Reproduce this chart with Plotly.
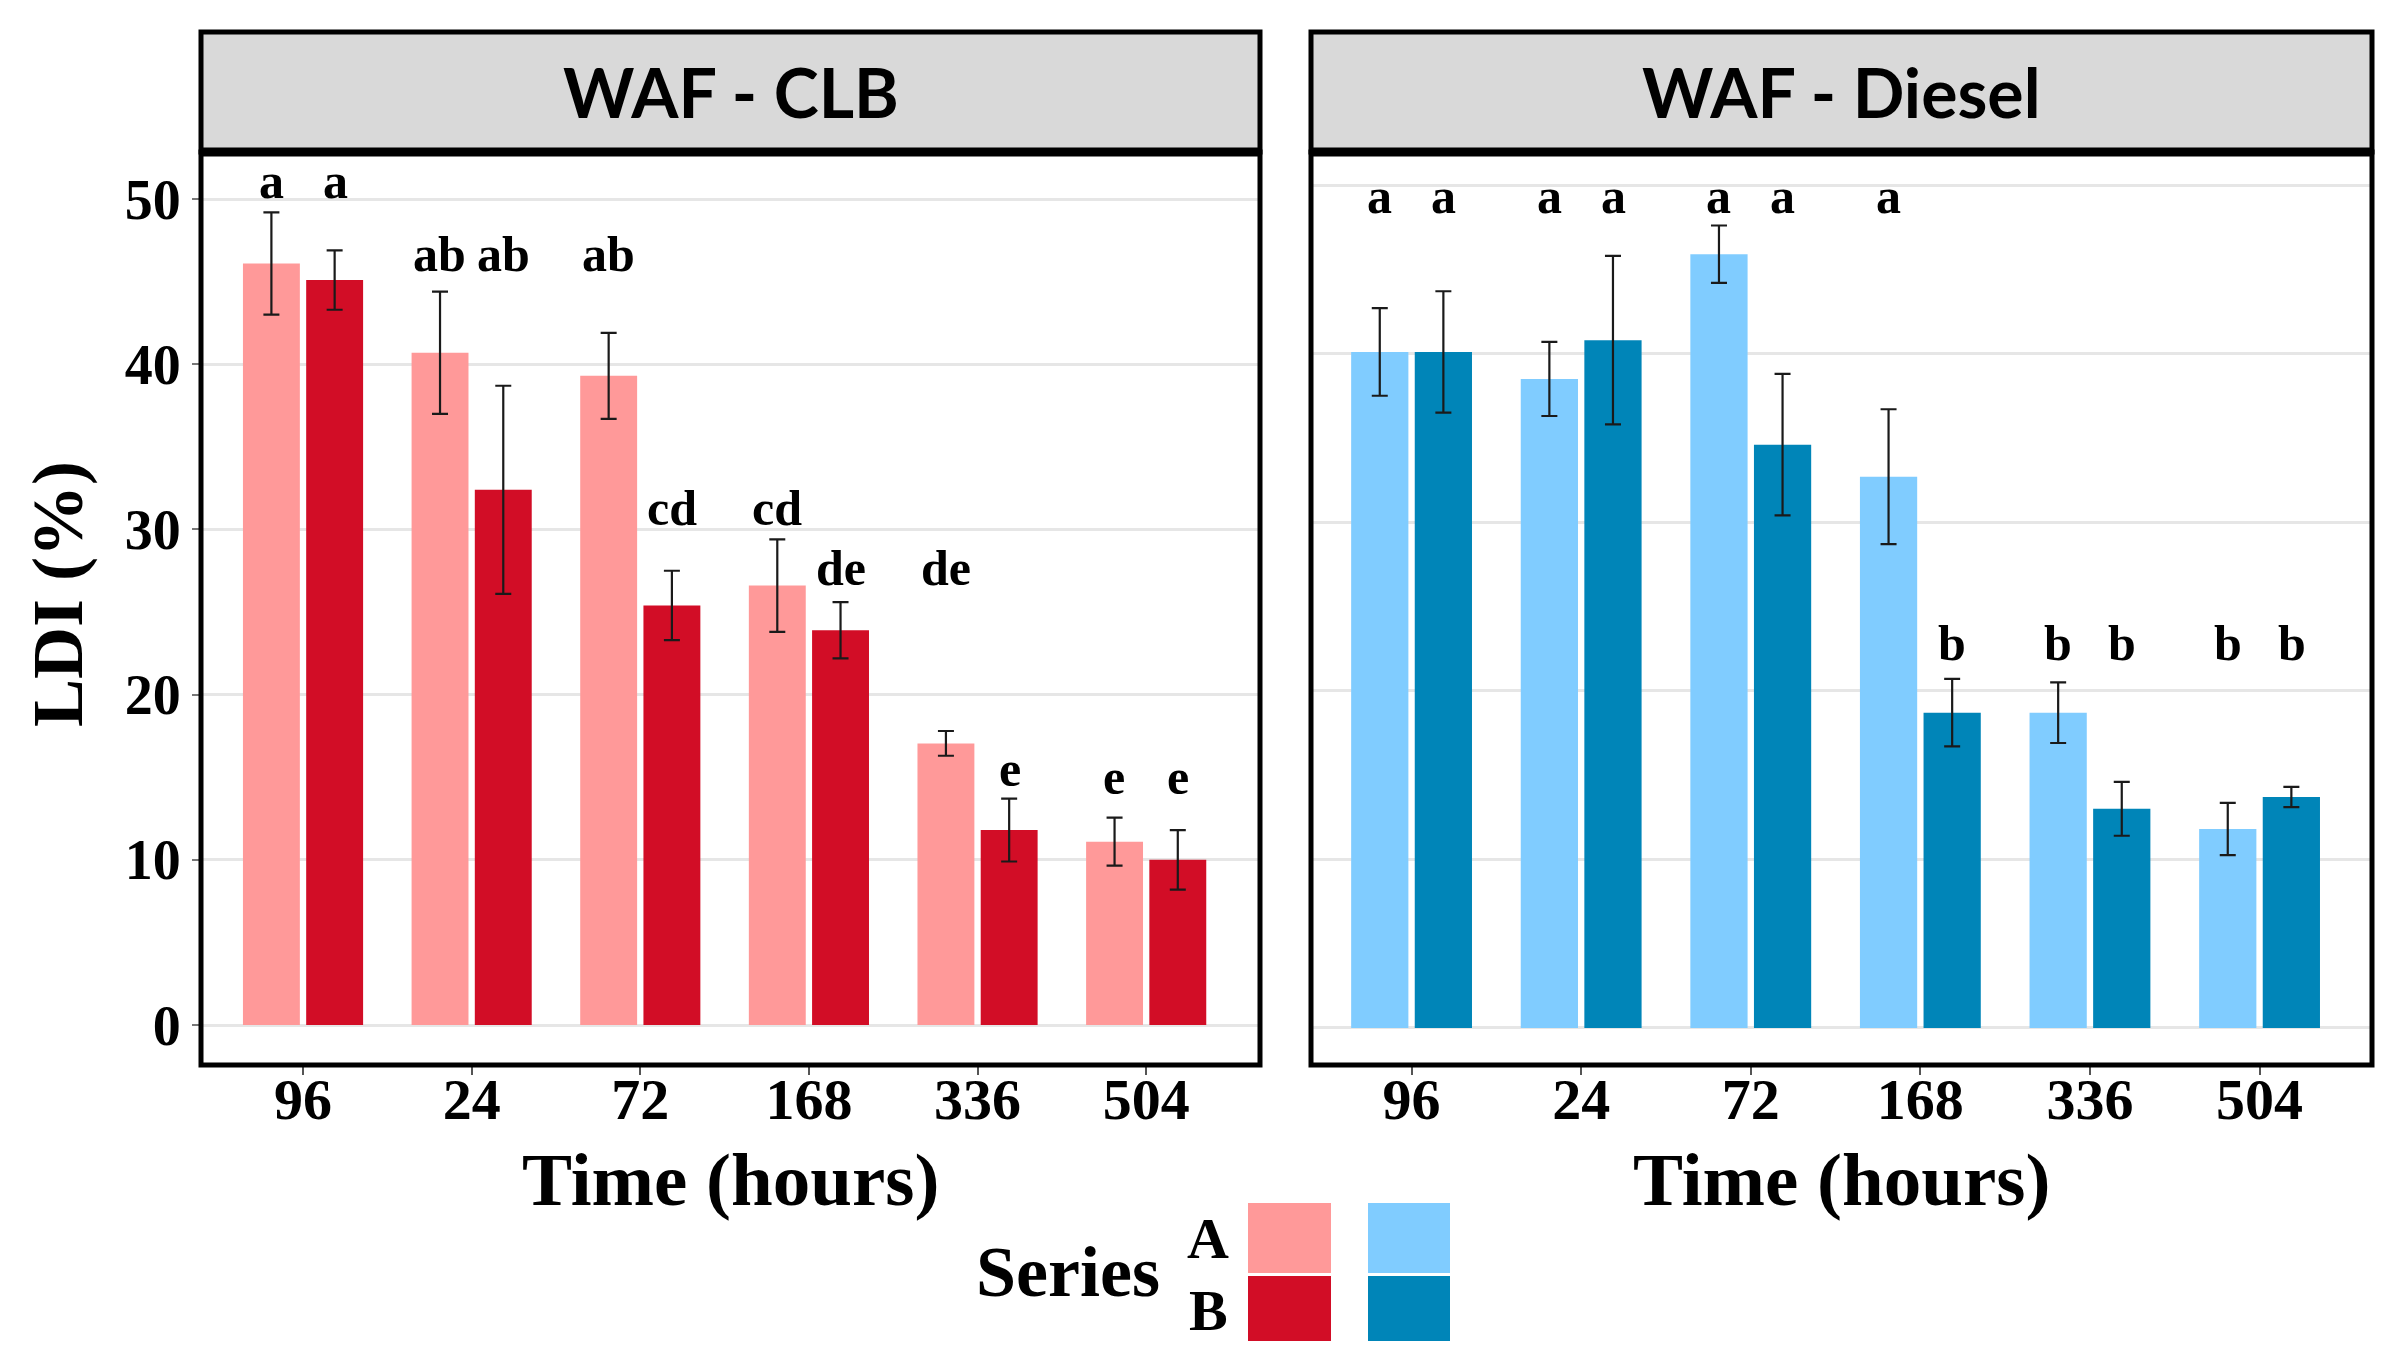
import plotly.graph_objects as go

W, H = 2406, 1364

categories = ["96", "24", "72", "168", "336", "504"]
series_names = ["A", "B"]

clb_a = [46.1, 40.7, 39.3, 26.6, 17.05, 11.1]
clb_a_err = [3.1, 3.7, 2.6, 2.8, 0.75, 1.45]
clb_b = [45.1, 32.4, 25.4, 23.9, 11.8, 10.0]
clb_b_err = [1.8, 6.3, 2.1, 1.7, 1.9, 1.8]

diesel_a = [40.1, 38.5, 45.9, 32.7, 18.7, 11.8]
diesel_a_err = [2.6, 2.2, 1.7, 4.0, 1.8, 1.55]
diesel_b = [40.1, 40.8, 34.6, 18.7, 13.0, 13.7]
diesel_b_err = [3.6, 5.0, 4.2, 2.0, 1.6, 0.6]

clb_a_letters = ["a", "ab", "ab", "cd", "de", "e"]
clb_b_letters = ["a", "ab", "cd", "de", "e", "e"]
clb_a_label_y = [50.0, 45.6, 45.6, 30.2, 26.6, 13.9]
clb_b_label_y = [50.0, 45.6, 30.2, 26.6, 14.4, 13.9]

diesel_a_letters = ["a", "a", "a", "a", "b", "b"]
diesel_b_letters = ["a", "a", "a", "b", "b", "b"]
diesel_a_label_y = [48.3, 48.3, 48.3, 48.3, 21.75, 21.75]
diesel_b_label_y = [48.3, 48.3, 48.3, 21.75, 21.75, 21.75]

panel_titles = ["WAF - CLB", "WAF - Diesel"]
y_ticks = [0, 10, 20, 30, 40, 50]

colors = {
    "clb": ["#FF9999", "#D20D26"],
    "diesel": ["#80CCFF", "#0085B8"],
}

SERIF = "Liberation Serif"
SANS = "Lato"


def px(x):
    return x / W


def py(y):
    return 1 - y / H


# panel geometry (pixels)
panels = [
    dict(x0=201, x1=1260, xr=[-0.605, 5.675], yr=[-2.42, 52.85]),
    dict(x0=1311, x1=2372, xr=[-0.593, 5.663], yr=[-2.2, 51.96]),
]
strip_top, plot_top, plot_bot = 32, 152, 1065

fig = go.Figure()

data_sets = [
    ("clb", [clb_a, clb_b], [clb_a_err, clb_b_err]),
    ("diesel", [diesel_a, diesel_b], [diesel_a_err, diesel_b_err]),
]

for pi, (key, vals, errs) in enumerate(data_sets):
    xa = "x" if pi == 0 else "x2"
    ya = "y" if pi == 0 else "y2"
    for si in range(2):
        fig.add_trace(go.Bar(
            x=categories, y=vals[si], name=series_names[si],
            marker=dict(color=colors[key][si], line=dict(width=0)),
            error_y=dict(type="data", array=errs[si], visible=True,
                         color="#1a1a1a", thickness=2.2, width=8),
            offsetgroup=str(si), xaxis=xa, yaxis=ya, showlegend=False,
        ))

ydom = [py(plot_bot), py(plot_top)]
axis_common = dict(showline=False, zeroline=False)
xtick_font = dict(family=SERIF, size=58, color="black", weight="bold")
fig.update_layout(
    width=W, height=H, autosize=False,
    margin=dict(l=0, r=0, t=0, b=0),
    paper_bgcolor="white", plot_bgcolor="white",
    barmode="group", bargap=0.25, bargroupgap=0.1,
    xaxis=dict(domain=[px(panels[0]["x0"]), px(panels[0]["x1"])], range=panels[0]["xr"],
               type="category", showgrid=False, ticks="outside", ticklen=9, tickwidth=2,
               tickcolor="#555555", ticklabelstandoff=-26,
               tickfont=xtick_font, **axis_common),
    xaxis2=dict(domain=[px(panels[1]["x0"]), px(panels[1]["x1"])], range=panels[1]["xr"],
                type="category", showgrid=False, ticks="outside", ticklen=9, tickwidth=2,
                tickcolor="#555555", ticklabelstandoff=-26, anchor="y2",
                tickfont=xtick_font, **axis_common),
    yaxis=dict(domain=ydom, range=panels[0]["yr"], tickvals=y_ticks, showgrid=True,
               gridcolor="#E6E6E6", gridwidth=3, ticks="outside", ticklen=8, tickwidth=2,
               tickcolor="#777777",
               tickfont=dict(family=SERIF, size=56, color="black", weight="bold"), **axis_common),
    yaxis2=dict(domain=ydom, range=panels[1]["yr"], tickvals=y_ticks, showgrid=True,
                gridcolor="#E6E6E6", gridwidth=3, showticklabels=False, anchor="x2",
                **axis_common),
)

shapes = []
annotations = []
for pi, p in enumerate(panels):
    # strip
    shapes.append(dict(type="rect", xref="paper", yref="paper",
                       x0=px(p["x0"]), x1=px(p["x1"]), y0=py(plot_top), y1=py(strip_top),
                       fillcolor="#D9D9D9", line=dict(color="black", width=5), layer="above"))
    # panel border
    shapes.append(dict(type="rect", xref="paper", yref="paper",
                       x0=px(p["x0"]), x1=px(p["x1"]), y0=py(plot_bot), y1=py(plot_top),
                       fillcolor="rgba(0,0,0,0)", line=dict(color="black", width=5), layer="above"))
    shapes.append(dict(type="line", xref="paper", yref="paper",
                       x0=px(p["x0"]), x1=px(p["x1"]), y0=py(plot_top), y1=py(plot_top),
                       line=dict(color="black", width=9), layer="above"))
    annotations.append(dict(xref="paper", yref="paper", x=px((p["x0"] + p["x1"]) / 2),
                            y=py((strip_top + plot_top) / 2), text=panel_titles[pi],
                            showarrow=False, xanchor="center", yanchor="middle",
                            font=dict(family=SANS, size=68, color="black", weight="bold")))
    annotations.append(dict(xref="paper", yref="paper", x=px((p["x0"] + p["x1"]) / 2),
                            y=py(1179), text="Time (hours)", showarrow=False,
                            xanchor="center", yanchor="middle",
                            font=dict(family=SERIF, size=75, color="black", weight="bold")))

# letters (x given as category index)
letter_sets = [
    ("x", "y", [clb_a_letters, clb_b_letters], [clb_a_label_y, clb_b_label_y]),
    ("x2", "y2", [diesel_a_letters, diesel_b_letters], [diesel_a_label_y, diesel_b_label_y]),
]
for xa, ya, lets, ly in letter_sets:
    for si in range(2):
        shift = -32 if si == 0 else 32
        for ci, (t, yv) in enumerate(zip(lets[si], ly[si])):
            annotations.append(dict(xref=xa, yref=ya, x=ci, y=yv, text=t, showarrow=False,
                                    xanchor="center", yanchor="bottom", xshift=shift, yshift=-12,
                                    font=dict(family=SERIF, size=50, color="black", weight="bold")))

# y title
annotations.append(dict(xref="paper", yref="paper", x=px(58), y=py(594), text="LDI (%)",
                        textangle=-90, showarrow=False, xanchor="center", yanchor="middle",
                        font=dict(family=SERIF, size=72, color="black", weight="bold")))

# legend
annotations.append(dict(xref="paper", yref="paper", x=px(1068), y=py(1272), text="Series",
                        showarrow=False, xanchor="center", yanchor="middle",
                        font=dict(family=SERIF, size=72, color="black", weight="bold")))
for si, yc in enumerate([1238, 1310]):
    annotations.append(dict(xref="paper", yref="paper", x=px(1208), y=py(yc),
                            text=series_names[si], showarrow=False, xanchor="center",
                            yanchor="middle",
                            font=dict(family=SERIF, size=58, color="black", weight="bold")))
sw_y = [(1203, 1273), (1276, 1341)]
sw_x = [(1248, 1331), (1368, 1450)]
for ki, key in enumerate(["clb", "diesel"]):
    for si in range(2):
        shapes.append(dict(type="rect", xref="paper", yref="paper",
                           x0=px(sw_x[ki][0]), x1=px(sw_x[ki][1]),
                           y0=py(sw_y[si][1]), y1=py(sw_y[si][0]),
                           fillcolor=colors[key][si], line=dict(width=0)))

fig.update_layout(shapes=shapes, annotations=annotations)

fig.write_html("out.html", config={"displayModeBar": False},
               post_script="document.body.style.margin='0';")
